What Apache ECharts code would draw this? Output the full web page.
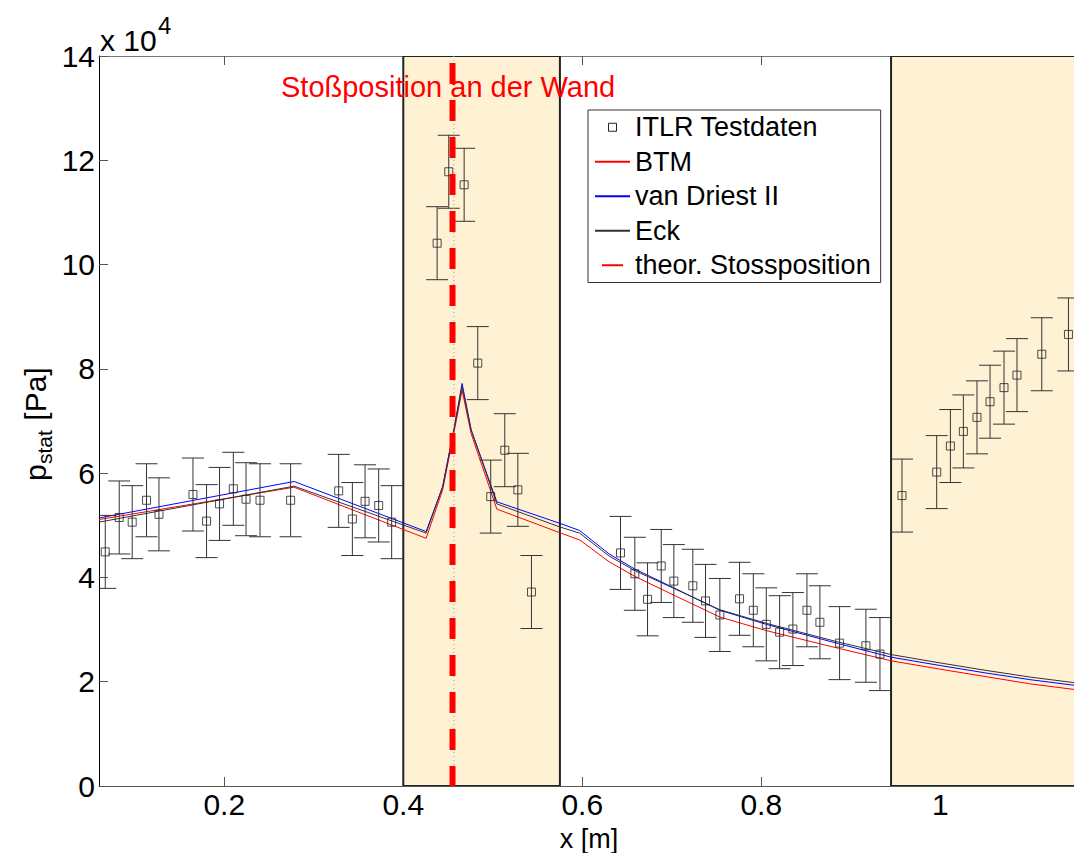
<!DOCTYPE html>
<html><head><meta charset="utf-8">
<script src="https://cdn.jsdelivr.net/npm/echarts@6/dist/echarts.min.js"></script>
<style>html,body{margin:0;padding:0;background:#fff;overflow:hidden}#c{width:1074px;height:853px}</style>
</head><body><div id="c"></div><script>
// ---- data ----
const testX = [0.067,0.0826,0.0971,0.1131,0.127,0.165,0.1802,0.1947,0.2101,0.2243,0.2399,0.2741,0.3278,0.3431,0.3573,0.3725,0.387,
  0.4378,0.4508,0.468,0.4832,0.4977,0.5134,0.528,0.5432,
  0.6427,0.6587,0.6729,0.6882,0.7023,0.7235,0.7377,0.7537,0.7757,0.7911,0.8056,0.8205,0.8353,0.851,0.8655,0.8875,0.9169,0.9326,
  0.9572,0.996,1.0113,1.0258,1.041,1.0556,1.0712,1.0857,1.1134,1.1432];
const testP = [44900,51500,50600,54800,52100,55900,50800,54100,57000,55000,54800,54800,56600,51200,54600,53800,50600,
  104100,117800,115300,81100,55500,64400,56800,37200,
  44700,40700,35800,42200,39300,38400,35500,32800,35900,33700,31000,29500,30100,33700,31400,27400,26900,25300,
  55700,60200,65200,68000,70700,73700,76400,78800,82800,86600];
const testErr = 7000; // half length of error bars
const modelX = [0.06,0.278,0.4255,0.444,0.4571,0.4657,0.4758,0.5045,0.5745,0.597,0.63,0.6587,0.7023,0.7537,0.8056,0.8863,0.9453,1.0,1.05,1.1,1.155];
const btm = [51100,57300,47500,56800,68200,75900,67600,53100,48600,47200,43000,40200,36600,32400,29800,26400,24000,22400,21000,19600,18400];
const vanDriest = [51400,58400,48800,57400,68900,77200,68300,54500,50400,49000,44500,41600,38000,33700,31000,27300,24700,23100,21700,20400,19200];
const eck = [50600,57500,48500,57400,68900,76600,68300,54100,49700,48500,44100,41300,37900,33800,31200,27600,25200,23600,22200,20900,19700];
const shockX = 0.455;
const zones = [[0.4,0.575],[0.945,1.155]];
const xTicks = [0.2,0.4,0.6,0.8,1];
const xMin = 0.06, xMax = 1.155, yMin = 0, yMax = 140000, yStep = 20000;
const names = ['ITLR Testdaten','BTM','van Driest II','Eck','theor. Stossposition'];

// ---- chart ----
const FONT = '"Liberation Sans", Arial, sans-serif';
const chart = echarts.init(document.getElementById('c'), null, {renderer:'svg'});
const pts = testX.map((x,i)=>[x,testP[i],testErr]);
const zip = (xs,ys)=>xs.map((x,i)=>[x,ys[i]]);

const option = {
  animation:false,
  backgroundColor:'#fff',
  grid:{left:99, right:-5, top:56, bottom:67, containLabel:false, outerBoundsMode:'none'},
  xAxis:[
    {type:'value', min:xMin, max:xMax, position:'bottom',
     axisLine:{show:true, onZero:false, lineStyle:{color:'#555', width:1}},
     axisTick:{show:true, inside:true, length:9, customValues:xTicks, lineStyle:{color:'#555'}},
     axisLabel:{customValues:xTicks, fontSize:30, fontFamily:FONT, color:'#000', margin:3},
     splitLine:{show:false},
     name:'x [m]', nameLocation:'middle', nameGap:30,
     nameTextStyle:{fontSize:27, fontFamily:FONT, color:'#000', lineHeight:30}},
    {type:'value', min:xMin, max:xMax, position:'top',
     axisLine:{show:true, onZero:false, lineStyle:{color:'#777', width:1}},
     axisTick:{show:true, inside:true, length:9, customValues:xTicks, lineStyle:{color:'#555'}},
     axisLabel:{show:false}, splitLine:{show:false}}
  ],
  yAxis:[
    {type:'value', min:yMin, max:yMax, interval:yStep, position:'left',
     axisLine:{show:true, onZero:false, lineStyle:{color:'#000', width:1}},
     axisTick:{show:true, inside:true, length:9, lineStyle:{color:'#555'}},
     axisLabel:{fontSize:30, fontFamily:FONT, color:'#000', margin:4, formatter:v=>String(v/10000)},
     splitLine:{show:false}},
    {type:'value', min:yMin, max:yMax, interval:yStep, position:'right',
     axisLine:{show:true, onZero:false, lineStyle:{color:'#555', width:1}},
     axisTick:{show:true, inside:true, length:9, lineStyle:{color:'#555'}},
     axisLabel:{show:false}, splitLine:{show:false}}
  ],
  legend:{
    orient:'vertical', left:588, top:110, z:20,
    data:[
      {name:names[0], icon:'path://M0,0L10,0L10,10L0,10Z',
       itemStyle:{opacity:1, color:'rgba(255,255,255,0)', borderColor:'#222', borderWidth:1}},
      {name:names[1]},{name:names[2]},{name:names[3]},{name:names[4]}
    ],
    itemStyle:{opacity:0},
    backgroundColor:'#fff', borderColor:'#333', borderWidth:1, borderRadius:0,
    padding:[0,10,0,6], itemWidth:35, itemHeight:8, itemGap:0,
    symbolKeepAspect:true, selectedMode:false,
    textStyle:{fontSize:27, fontFamily:FONT, color:'#000', lineHeight:34.5}
  },
  graphic:[
    {type:'text', x:100, y:25, z:100, style:{text:'x 10', font:'30px '+FONT, fill:'#000', verticalAlign:'top'}},
    {type:'text', x:158, y:13, z:100, style:{text:'4', font:'24px '+FONT, fill:'#000', verticalAlign:'top'}},
    {type:'text', x:281, y:72, z:100, style:{text:'Stoßposition an der Wand', font:'29px '+FONT, fill:'#ff0000', verticalAlign:'top'}},
    {type:'group', x:20, y:481, z:100, rotation:Math.PI/2, children:[
      {type:'text', x:0, y:0, z:100, style:{text:'p', font:'30px '+FONT, fill:'#000', verticalAlign:'top'}},
      {type:'text', x:17, y:14, z:100, style:{text:'stat', font:'21px '+FONT, fill:'#000', verticalAlign:'top'}},
      {type:'text', x:52, y:0, z:100, style:{text:' [Pa]', font:'30px '+FONT, fill:'#000', verticalAlign:'top'}}
    ]}
  ],
  series:[
    {type:'custom', name:'zones', silent:true, z:1, clip:true,
     data:zones,
     encode:{x:[0,1]},
     renderItem:(params,api)=>{
       const a = api.coord([api.value(0), yMax]);
       const b = api.coord([api.value(1), yMin]);
       return {type:'rect', shape:{x:a[0], y:a[1], width:b[0]-a[0], height:b[1]-a[1]},
         style:{fill:'#fff2d4', stroke:'#222', lineWidth:2}};
     }},
    {type:'line', name:names[1], data:zip(modelX,btm), symbol:'none', z:3,
     lineStyle:{color:'#ff0000', width:1}, itemStyle:{color:'#ff0000'}},
    {type:'line', name:names[2], data:zip(modelX,vanDriest), symbol:'none', z:3,
     lineStyle:{color:'#0000ff', width:1}, itemStyle:{color:'#0000ff'}},
    {type:'line', name:names[3], data:zip(modelX,eck), symbol:'none', z:3,
     lineStyle:{color:'#333', width:1}, itemStyle:{color:'#333'}},
    {type:'custom', name:'errorbars', silent:true, z:4, clip:true,
     data:pts, encode:{x:0, y:1},
     renderItem:(params,api)=>{
       const x = api.value(0), y = api.value(1), e = api.value(2);
       const t = api.coord([x, y+e]), b = api.coord([x, y-e]);
       const hw = 11, st = {stroke:'#333', lineWidth:1};
       return {type:'group', children:[
         {type:'line', shape:{x1:t[0], y1:t[1], x2:b[0], y2:b[1]}, style:st},
         {type:'line', shape:{x1:t[0]-hw, y1:t[1], x2:t[0]+hw, y2:t[1]}, style:st},
         {type:'line', shape:{x1:b[0]-hw, y1:b[1], x2:b[0]+hw, y2:b[1]}, style:st}
       ]};
     }},
    {type:'scatter', name:names[0], data:pts, symbol:'rect', symbolSize:8, z:5,
     itemStyle:{color:'rgba(255,255,255,0)', borderColor:'#222', borderWidth:1}},
    {type:'line', name:'shockDot', data:[[shockX+0.0015,yMax],[shockX+0.0015,yMin]], symbol:'none', z:6,
     lineStyle:{color:'#999', width:1, type:[1,3]}},
    {type:'line', name:names[4], data:[[shockX,yMax],[shockX,yMin]], symbol:'none', z:7,
     lineStyle:{color:'#ff0000', width:6, type:[21,16], dashOffset:30}, itemStyle:{color:'#ff0000'}}
  ]
};
chart.setOption(option);
</script></body></html>
